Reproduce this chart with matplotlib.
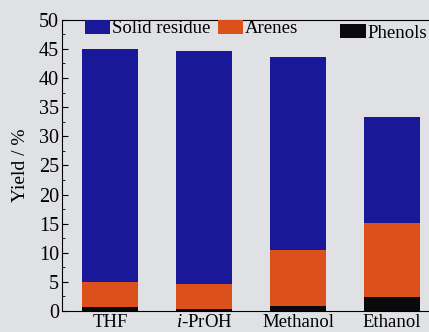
import matplotlib
matplotlib.use("Agg")
from matplotlib import pyplot as plt
from matplotlib.ticker import MultipleLocator

plt.rcParams["font.family"] = "Liberation Serif"
plt.rcParams["mathtext.fontset"] = "custom"
plt.rcParams["mathtext.rm"] = "Liberation Serif"
plt.rcParams["mathtext.it"] = "Liberation Serif:italic"

solvents = ["THF", "$i$-PrOH", "Methanol", "Ethanol"]
phenols = [0.6, 0.3, 0.8, 2.4]
arenes = [4.4, 4.3, 9.7, 12.7]
solid_residue = [40.0, 40.1, 33.1, 18.2]

bg = "#e0e1e5"
fig = plt.figure(figsize=(4.29, 3.32), dpi=100, facecolor=bg)
ax = fig.add_axes([0.1445, 0.0633, 0.879, 0.877], facecolor=bg)

x = range(len(solvents))
bottom2 = [p + a for p, a in zip(phenols, arenes)]
b_ph = ax.bar(x, phenols, width=0.6, color="#0a0a0a", label="Phenols")
b_ar = ax.bar(x, arenes, width=0.6, bottom=phenols, color="#dc501c", label="Arenes")
b_sr = ax.bar(x, solid_residue, width=0.6, bottom=bottom2, color="#181898",
              label="Solid residue")

ax.set_xlim(-0.51, 3.5)
ax.set_ylim(0, 50)
ax.yaxis.set_major_locator(MultipleLocator(5))
ax.yaxis.set_minor_locator(MultipleLocator(2.5))
ax.set_xticks(list(x))
ax.set_xticklabels(solvents, fontsize=13.5)
ax.tick_params(axis="y", which="major", direction="in", length=4, labelsize=14.5, pad=2)
ax.tick_params(axis="y", which="minor", direction="in", length=2)
ax.tick_params(axis="x", length=0, pad=2)
ax.set_ylabel("Yield / %", fontsize=14, labelpad=7)

leg_kw = dict(frameon=False, fontsize=13.5, loc="upper left",
              handlelength=1.35, handleheight=0.75, handletextpad=0.1,
              columnspacing=0.4, borderaxespad=0, borderpad=0)
leg1 = ax.legend([b_sr, b_ar], ["Solid residue", "Arenes"], ncol=2,
                 bbox_to_anchor=(0.06, 1.0), **leg_kw)
ax.add_artist(leg1)
ax.legend([b_ph], ["Phenols"], bbox_to_anchor=(0.738, 0.985), **leg_kw)

fig.savefig("out.png", dpi=100, facecolor=bg)
